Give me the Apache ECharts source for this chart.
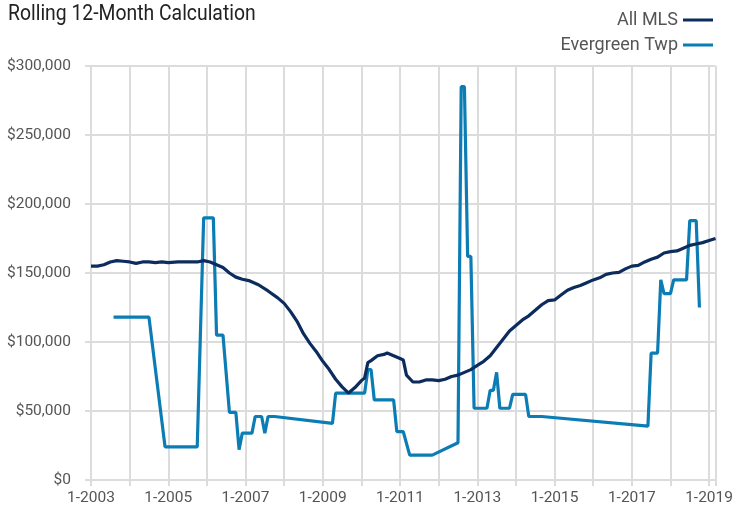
<!DOCTYPE html>
<html>
<head>
<meta charset="utf-8">
<script src="https://cdn.jsdelivr.net/npm/echarts@6/dist/echarts.min.js"></script>
<style>
  html, body { margin: 0; padding: 0; background: #fff; }
  #chart { width: 736px; height: 515px; }
</style>
</head>
<body>
<div id="chart"></div>
<script>
  // months counted from 1-2003 (0 = Jan 2003)
  const seriesNames = ['All MLS', 'Evergreen Twp'];

  const allMls = [
    [0,155000],[2,155000],[4,156000],[6,158000],[8,159000],[10,158500],[12,158000],[14,157000],
    [16,158000],[18,158000],[20,157500],[22,158000],[24,157500],[27,158000],[30,158000],[33,158000],
    [35,159000],[37,158000],[39,156000],[41,154000],[43,150000],[45,147000],[47,145500],[49,144500],
    [52,141500],[55,137000],[58,132000],[60,128000],[62,122000],[64,115000],[66,106000],[68,99000],
    [70,93000],[72,86000],[74,80000],[76,73000],[78,67500],[80,63000],[82,67000],[84,72000],
    [85,74000],[86,85000],[87,86500],[89,90000],[91,91000],[92,92000],[94,90000],[96,88000],
    [97,87000],[98,76000],[100,71000],[102,71000],[104,72500],[106,72500],[108,72000],[110,73000],
    [112,75000],[114,76000],[116,78000],[118,80000],[120,83000],[122,86000],[124,90000],[126,96000],
    [128,102000],[130,108000],[132,112000],[134,116000],[136,119000],[138,123000],[140,127000],[142,130000],
    [144,130500],[146,134000],[148,137500],[150,139500],[152,141000],[154,143000],[156,145000],[158,146500],
    [160,149000],[162,150000],[164,150500],[166,153000],[168,155000],[170,155500],[172,158000],[174,160000],
    [176,161500],[178,164500],[180,165500],[182,166000],[184,168000],[186,170000],[188,171000],[190,172000],
    [192,173500],[194,175000]
  ];

  const evergreen = [
    [7,118000],[18,118000],[23,24000],[33,24000],[35,190000],[38,190000],[39,105000],[41,105000],
    [43,49000],[45,49000],[46,22000],[47,34000],[50,34000],[51,46000],[53,46000],[54,34000],
    [55,46000],[57,46000],[75,41000],[76,63000],[85,63000],[86,80000],[87,80000],[88,58000],
    [94,58000],[95,35000],[97,35000],[99,18000],[106,18000],[114,27000],[115,285000],[116,285000],
    [117,162000],[118,162000],[119,52000],[123,52000],[124,65000],[125,65000],[126,78000],[127,52000],
    [130,52000],[131,62000],[135,62000],[136,46000],[140,46000],[173,39000],[174,92000],[176,92000],
    [177,145000],[178,135000],[180,135000],[181,145000],[185,145000],[186,188000],[188,188000],[189,125000]
  ];

  const startYear = 2003;
  const lastMonth = 194;
  const colors = ['#0c2c5e', '#0b7db4'];
  const gridColor = '#dcdcdc';

  const chart = echarts.init(document.getElementById('chart'));
  chart.setOption({
    animation: false,
    backgroundColor: '#fff',
    color: colors,
    // title drawn as graphic text so it can be narrowed like the condensed face
    graphic: [{
      type: 'text',
      x: 8,
      y: 3,
      scaleX: 0.88,
      style: { text: 'Rolling 12-Month Calculation', font: '22px Roboto, sans-serif', fill: '#222' }
    }],
    legend: {
      orient: 'vertical',
      right: 18,
      top: 6,
      align: 'right',
      itemGap: 7,
      itemWidth: 30,
      itemHeight: 3,
      icon: 'rect',
      textStyle: { fontFamily: 'Roboto, sans-serif', fontSize: 18, color: '#555' },
      data: seriesNames
    },
    grid: { left: 91, right: 17, top: 66, bottom: 35, containLabel: false },
    xAxis: {
      type: 'value',
      min: 0,
      max: lastMonth,
      interval: 12,
      axisLine: { show: false },
      axisTick: { show: true, length: 6, lineStyle: { color: gridColor, width: 2 } },
      axisLabel: {
        margin: 10,
        fontFamily: 'Roboto, sans-serif',
        fontSize: 15.5,
        color: '#555',
        formatter: v => (v % 24 === 0 ? '1-' + (startYear + v / 12) : '')
      },
      splitLine: { show: true, lineStyle: { color: gridColor, width: 2 } }
    },
    yAxis: {
      type: 'value',
      min: 0,
      max: 300000,
      interval: 50000,
      axisLine: { show: false },
      axisTick: { show: true, length: 6, lineStyle: { color: gridColor, width: 2 } },
      axisLabel: {
        margin: 20,
        fontFamily: 'Roboto, sans-serif',
        fontSize: 15.5,
        color: '#555',
        formatter: v => '$' + v.toLocaleString('en-US')
      },
      splitLine: { show: true, lineStyle: { color: gridColor, width: 2 } }
    },
    series: [
      {
        name: seriesNames[0],
        type: 'line',
        data: allMls,
        symbol: 'none',
        z: 3,
        lineStyle: { width: 3.2, color: colors[0] }
      },
      {
        name: seriesNames[1],
        type: 'line',
        data: evergreen,
        symbol: 'none',
        z: 2,
        lineStyle: { width: 3.2, color: colors[1] }
      }
    ]
  });
</script>
</body>
</html>
